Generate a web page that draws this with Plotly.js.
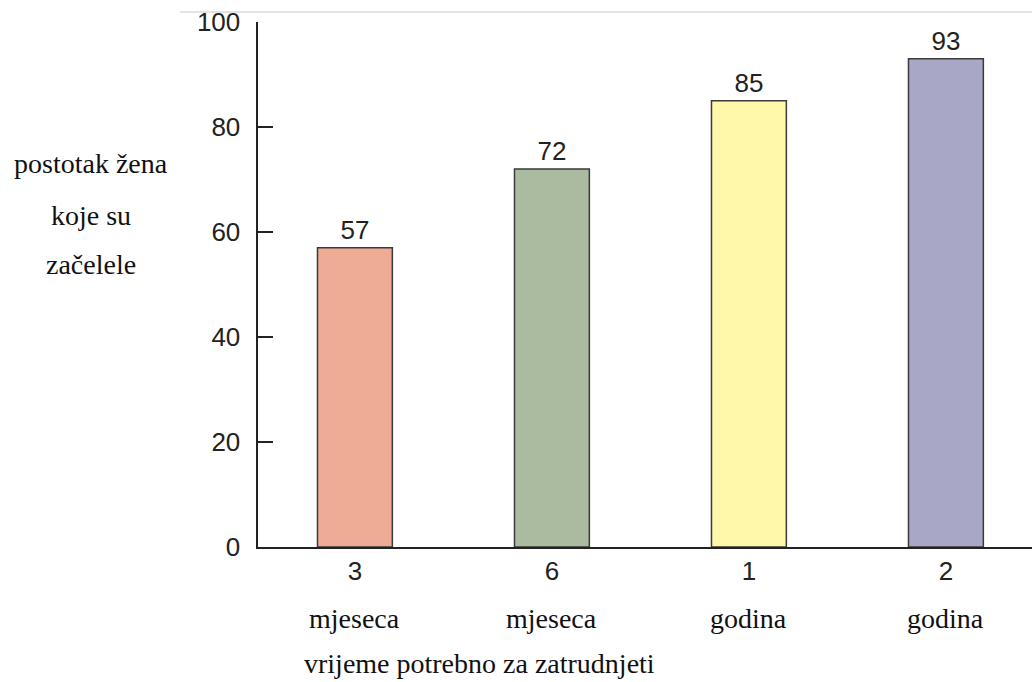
<!DOCTYPE html>
<html>
<head>
<meta charset="utf-8">
<script src="https://cdn.plot.ly/plotly-3.0.1.min.js"></script>
<style>html,body{margin:0;padding:0;background:#fff;}#chart{width:1032px;height:682px;}</style>
</head>
<body>
<div id="chart"></div>
<script>
const categories = ['3', '6', '1', '2'];
const unitLabels = ['mjeseca', 'mjeseca', 'godina', 'godina'];
const values = [57, 72, 85, 93];
const barColors = ['#EEAC95', '#AABB9F', '#FFF8A8', '#A8A8C6'];
const yTitleLines = ['postotak žena', 'koje su', 'začelele'];
const xTitle = 'vrijeme potrebno za zatrudnjeti';
const yTicks = [0, 20, 40, 60, 80, 100];

const sans = 'Liberation Sans, Arial, sans-serif';
const serif = 'Liberation Serif, Times New Roman, serif';

const trace = {
  type: 'bar',
  x: categories,
  y: values,
  width: 0.38,
  marker: { color: barColors, line: { color: '#3a3a3a', width: 1.5 } },
  text: values.map(String),
  textposition: 'outside',
  textfont: { family: sans, size: 26, color: '#222' },
  cliponaxis: false,
  hoverinfo: 'none'
};

const annotations = [];
unitLabels.forEach((u, i) => {
  annotations.push({
    xref: 'x', yref: 'paper', x: i, y: (547 - 618) / 525,
    text: u, showarrow: false, xanchor: 'center', yanchor: 'middle',
    font: { family: serif, size: 28, color: '#111' }
  });
});
const yLinePx = [164, 215, 264];
yTitleLines.forEach((t, i) => {
  annotations.push({
    xref: 'paper', yref: 'paper', x: (91 - 258) / 774, y: (547 - yLinePx[i]) / 525,
    text: t, showarrow: false, xanchor: 'center', yanchor: 'middle',
    font: { family: serif, size: 28, color: '#111' }
  });
});
annotations.push({
  xref: 'paper', yref: 'paper', x: (479 - 258) / 774, y: (547 - 663) / 525,
  text: xTitle, showarrow: false, xanchor: 'center', yanchor: 'middle',
  font: { family: serif, size: 28, color: '#111' }
});

const layout = {
  width: 1032, height: 682,
  margin: { l: 258, r: 0, t: 22, b: 135, pad: 0 },
  paper_bgcolor: '#fff', plot_bgcolor: '#fff',
  showlegend: false,
  xaxis: {
    type: 'category', range: [-0.492, 3.437],
    showline: true, linecolor: '#222', linewidth: 2,
    showgrid: false, zeroline: false, ticks: '',
    tickfont: { family: sans, size: 26, color: '#222' },
    fixedrange: true
  },
  yaxis: {
    range: [0, 100], tickvals: yTicks,
    showline: true, linecolor: '#222', linewidth: 2.5,
    showgrid: false, zeroline: false,
    ticks: 'inside', ticklen: 15, tickwidth: 1.5, tickcolor: '#222',
    ticklabelstandoff: 10,
    tickfont: { family: sans, size: 26, color: '#222' },
    fixedrange: true
  },
  shapes: [{
    type: 'line', xref: 'paper', yref: 'paper',
    x0: (180 - 258) / 774, x1: 1, y0: (547 - 12) / 525, y1: (547 - 12) / 525,
    line: { color: '#c8c8c8', width: 1 }
  }],
  annotations: annotations
};

Plotly.newPlot('chart', [trace], layout, { displayModeBar: false, staticPlot: true });
</script>
</body>
</html>
